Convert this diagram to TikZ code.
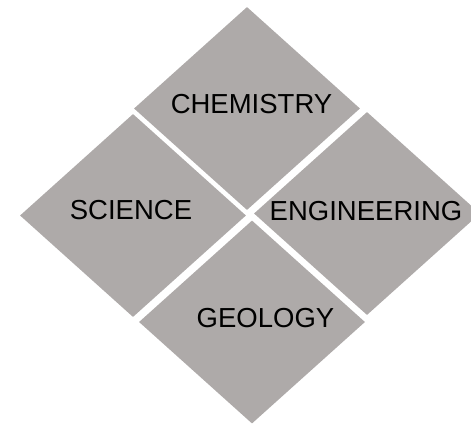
\documentclass[tikz,border=0pt]{standalone}
\usepackage{fontspec}
\setmainfont{Liberation Sans}
\usepackage{xcolor}
\usetikzlibrary{shapes.geometric}
\definecolor{tilegray}{RGB}{174,170,169}

\begin{document}
\begin{tikzpicture}[x=1pt,y=-1pt,
  tile/.style={diamond,fill=tilegray,inner sep=0pt,minimum width=226pt,minimum height=203pt},
  lab/.style={font=\fontsize{27.5}{30}\selectfont,inner sep=0pt}]
\useasboundingbox (0,0) rectangle (471,423);
\node[tile] (chem) at (247,108.5) {};
\node[tile] (sci) at (133,215.5) {};
\node[tile] (eng) at (367,213.5) {};
\node[tile] (geo) at (252,322) {};
\node[lab] (chemlab) at (251.5,104) {CHEMISTRY};
\node[lab] (scilab) at (131,210) {SCIENCE};
\node[lab] (englab) at (366,211) {ENGINEERING};
\node[lab] (geolab) at (265.5,318) {GEOLOGY};
\end{tikzpicture}
\end{document}
